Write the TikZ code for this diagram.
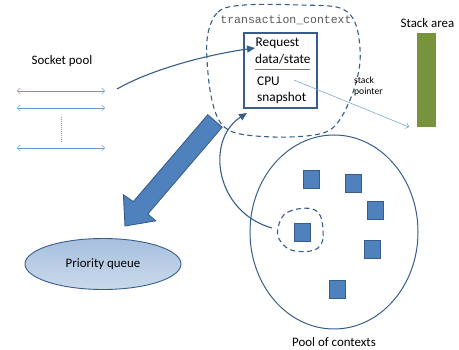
\documentclass[tikz,border=0pt]{standalone}
\usepackage{fontspec}
\setmainfont{Carlito}
\newfontfamily\monof{Liberation Mono}
\usetikzlibrary{arrows.meta,calc,shapes.geometric}
\definecolor{dblue}{HTML}{385D8A}
\definecolor{mblue}{HTML}{4F81BD}
\definecolor{lblue}{HTML}{6E9AD2}
\definecolor{sgreen}{HTML}{77933C}
\definecolor{tgray}{HTML}{595959}
\tikzset{
  lbl/.style={inner sep=0pt,font=\fontsize{12.9}{14}\selectfont},
  boxtxt/.style={inner sep=0pt,anchor=west,font=\fontsize{13.3}{14}\selectfont},
  sock/.style={draw=lblue,line width=0.5pt,{Straight Barb[length=3pt,width=6pt]}-{Straight Barb[length=3pt,width=6pt]}},
  ctxsq/.style={draw=dblue,fill=mblue,line width=0.8pt,minimum width=16pt,minimum height=18pt,inner sep=0pt},
  darrow/.style={draw=dblue,line width=1.1pt,-{Triangle[length=8pt,width=7pt]}},
  dashblob/.style={draw=dblue,line width=1.1pt,dash pattern=on 5pt off 3.5pt},
}
\begin{document}
\begin{tikzpicture}[x=1pt,y=-1pt]
\useasboundingbox (0,0) rectangle (459,350);
% socket pool
\node[lbl] (sp) at (62,61) {Socket pool};
\coordinate (s1a) at (17,91); \coordinate (s1b) at (105,91);
\coordinate (s2a) at (17,108); \coordinate (s2b) at (105,108);
\coordinate (s3a) at (17,148); \coordinate (s3b) at (105,148);
\draw[sock] (s1a) -- (s1b);
\draw[sock] (s2a) -- (s2b);
\draw[sock] (s3a) -- (s3b);
\coordinate (d1) at (61,117); \coordinate (d2) at (61,143);
\draw[lblue,line width=0.7pt,dash pattern=on 1pt off 1pt] (d1) -- (d2);
% transaction context blob
\draw[dashblob] plot[smooth cycle,tension=0.55] coordinates {(207,40) (218,12) (245,5) (300,5) (340,8) (356,25) (360,62) (350,100) (330,130) (290,137) (240,134) (220,122) (210,90)};
\node[inner sep=0pt,text=tgray,font=\monof\fontsize{11.5}{13}\selectfont] (tc) at (286,20) {transaction\_context};
% request box
\node[draw=dblue,line width=1.1pt,minimum width=73pt,minimum height=75pt,inner sep=0pt] (box) at (280.5,70.5) {};
\node[boxtxt] (r1) at (255.5,43.5) {Request};
\node[boxtxt] (r2) at (255,59.5) {data/state};
\coordinate (l1) at (255,69); \coordinate (l2) at (310,69);
\draw[mblue,line width=0.8pt] (l1) -- (l2);
\node[boxtxt] (c1) at (257,81.5) {CPU};
\node[boxtxt] (c2) at (257,97.5) {snapshot};
% stack area
\node[lbl] (sa) at (427.5,23) {Stack area};
\node[fill=sgreen,minimum width=19pt,minimum height=94pt,inner sep=0pt] (stack) at (426.5,80) {};
\coordinate (cpu) at (294,80);
\coordinate (sptip) at (409,127);
\draw[lblue,line width=0.5pt,-{Straight Barb[length=3pt,width=6pt]}] (cpu) -- (sptip);
\node[inner sep=0pt,anchor=west,align=left,font=\fontsize{9.6}{11.5}\selectfont] (spl) at (354,86.5) {stack\\pointer};
% socket -> request curve
\coordinate (sc) at (117,89);
\coordinate (rq) at (255,48);
\draw[darrow] (sc) .. controls (150,70) and (205,55) .. (rq);
% pool of contexts
\node[draw=dblue,line width=1pt,ellipse,minimum width=168pt,minimum height=194pt,inner sep=0pt] (pool) at (334,232) {};
\node[lbl] (pl) at (334,342) {Pool of contexts};
\node[ctxsq] (q1) at (311,179) {};
\node[ctxsq] (q2) at (353,183) {};
\node[ctxsq] (q3) at (375,210) {};
\node[ctxsq] (q4) at (302,232) {};
\node[ctxsq] (q5) at (372,249) {};
\node[ctxsq] (q6) at (337,289) {};
\draw[dashblob] plot[smooth cycle,tension=0.7] coordinates {(278,228) (288,212) (315,210) (323,230) (318,248) (295,251) (281,242)};
\coordinate (ps) at (272,228);
\coordinate (pe) at (247,113);
\draw[darrow] (ps) .. controls (215,212) and (205,140) .. (pe);
% priority queue
\node[draw=dblue,line width=0.9pt,ellipse,top color=mblue!50,bottom color=mblue!30,minimum width=156pt,minimum height=51pt,inner sep=0pt] (pq) at (103,264) {};
\node[lbl] (pqt) at (103,264) {Priority queue};
% big block arrow
\coordinate (A1) at (207.8,114.8);
\coordinate (A2) at (222.2,127.2);
\coordinate (A3) at (147.8,214.0);
\coordinate (A4) at (155.8,220.8);
\coordinate (AT) at (125,226);
\coordinate (A5) at (123.4,194.8);
\coordinate (A6) at (133.4,201.6);
\draw[draw=dblue,fill=mblue,line width=0.9pt,line join=miter] (A1) -- (A2) -- (A3) -- (A4) -- (AT) -- (A5) -- (A6) -- cycle;
\end{tikzpicture}
\end{document}
